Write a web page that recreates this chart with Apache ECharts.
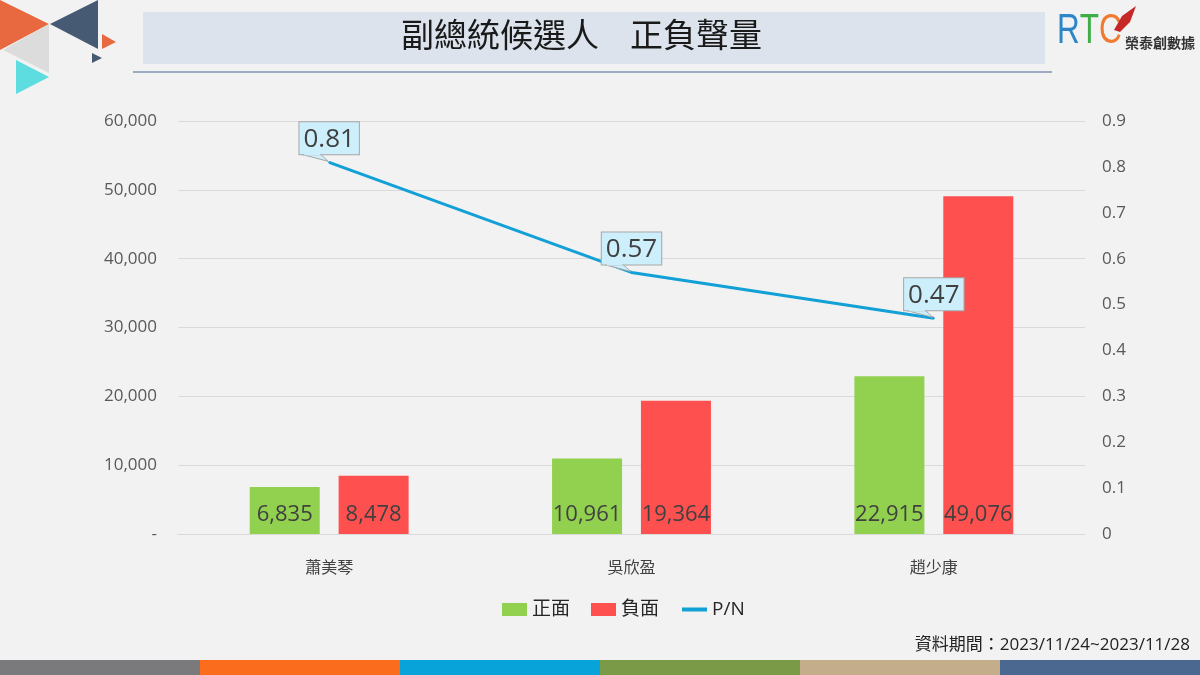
<!DOCTYPE html>
<html><head><meta charset="utf-8">
<script src="https://cdn.jsdelivr.net/npm/echarts@6/dist/echarts.min.js"></script>
<style>html,body{margin:0;padding:0;background:#f1f2f1;}#c{width:1200px;height:675px;}</style>
</head><body><div id="c"></div>
<script>
const categories = ['蕭美琴', '吳欣盈', '趙少康'];
const positive = [6835, 10961, 22915];
const negative = [8478, 19364, 49076];
const ratio = [0.81, 0.57, 0.47];
const seriesNames = ['正面', '負面', 'P/N'];
const titleParts = ['副總統候選人', '正負聲量'];
const dateText = '資料期間：2023/11/24~2023/11/28';

const FONT = '"Open Sans","Noto Sans CJK TC",sans-serif';
const chart = echarts.init(document.getElementById('c'));
const bottomColors = ['#7a7a7c', '#fb6d1d', '#08a3d9', '#7b9a48', '#c4ad8a', '#4b6890'];

const graphics = [
  {type:'polygon', shape:{points:[[0,0],[49,24],[0,50]]}, style:{fill:'#e8683f'}},
  {type:'polygon', shape:{points:[[50,24],[98,0],[98,49]]}, style:{fill:'#475a73'}},
  {type:'polygon', shape:{points:[[3,50],[49,24],[49,73]]}, style:{fill:'#dcdcdc'}},
  {type:'polygon', shape:{points:[[16,60],[49,77],[16,94]]}, style:{fill:'#5ddde0'}},
  {type:'polygon', shape:{points:[[102,34],[116,42],[102,49]]}, style:{fill:'#e8683f'}},
  {type:'polygon', shape:{points:[[92,53],[102,58],[92,63]]}, style:{fill:'#475a73'}},
  {type:'rect', shape:{x:143, y:12, width:902, height:52}, style:{fill:'#dce3ec'}},
  {type:'line', shape:{x1:133, y1:72, x2:1052, y2:72}, style:{stroke:'#4a6592', lineWidth:1.2}},
  {type:'text', x:401, y:18, style:{text:titleParts[0], font:'33px "Noto Sans CJK TC",sans-serif', fill:'#1a1a1a'}},
  {type:'text', x:630, y:18, style:{text:titleParts[1], font:'33px "Noto Sans CJK TC",sans-serif', fill:'#1a1a1a'}},
  {type:'text', x:1057, y:10, scaleX:0.75, style:{rich:{r:{fill:'#2e86c8', fontSize:42, fontFamily:'"Liberation Sans",sans-serif'}, t:{fill:'#3fae49', fontSize:42, fontFamily:'"Liberation Sans",sans-serif'}, c:{fill:'#f07a30', fontSize:42, fontFamily:'"Liberation Sans",sans-serif'}}, text:'{r|R}{t|T}{c|C}'}},
  {type:'polygon', shape:{points:[[1114,30],[1122,16],[1136,6],[1130,22],[1120,32]]}, style:{fill:'#c62828'}},
  {type:'text', x:1125, y:36, style:{text:'榮泰創數據', font:'bold 14px "Noto Sans CJK TC",sans-serif', fill:'#333'}},
  {type:'text', x:1190, y:637, style:{text:dateText, font:'17px ' + FONT, fill:'#222', textAlign:'right'}}
];
bottomColors.forEach((c, i) => graphics.push({type:'rect', shape:{x:i*200, y:660, width:200, height:15}, style:{fill:c}}));

chart.setOption({
  backgroundColor: '#f1f2f1',
  animation: false,
  textStyle: {fontFamily: FONT},
  grid: {left: 178, right: 115, top: 121, bottom: 141},
  legend: {
    bottom: 51, left: 497, itemWidth: 25, itemHeight: 13, itemGap: 21,
    textStyle: {fontSize: 19, color: '#262626', fontFamily: FONT},
    data: [{name: seriesNames[0], icon: 'rect'}, {name: seriesNames[1], icon: 'rect'},
           {name: seriesNames[2], itemStyle: {opacity: 0}, lineStyle: {width: 4}}]
  },
  xAxis: {
    type: 'category', data: categories,
    axisLine: {show: true, lineStyle: {color: '#d9d9d9'}}, axisTick: {show: false},
    axisLabel: {fontSize: 16, color: '#404040', margin: 26}
  },
  yAxis: [
    {type: 'value', min: 0, max: 60000, interval: 10000,
     axisLine: {show: false}, axisTick: {show: false},
     splitLine: {lineStyle: {color: '#d9d9d9'}},
     axisLabel: {fontSize: 17, color: '#595959', margin: 21, formatter: v => v === 0 ? '-' : v.toLocaleString('en-US')}},
    {type: 'value', min: 0, max: 0.9, interval: 0.1,
     axisLine: {show: false}, axisTick: {show: false}, splitLine: {show: false},
     axisLabel: {fontSize: 17, color: '#595959', margin: 17, formatter: v => v === 0 ? '0' : String(Math.round(v * 10) / 10)}}
  ],
  series: [
    {name: seriesNames[0], type: 'bar', data: positive, barWidth: 70, barGap: '27%',
     itemStyle: {color: '#92d050'},
     label: {show: true, position: 'insideBottom', distance: 8, fontSize: 22, color: '#404040', formatter: p => p.value.toLocaleString('en-US')}},
    {name: seriesNames[1], type: 'bar', data: negative, barWidth: 70,
     itemStyle: {color: '#ff5050'},
     label: {show: true, position: 'insideBottom', distance: 8, fontSize: 22, color: '#404040', formatter: p => p.value.toLocaleString('en-US')}},
    {name: seriesNames[2], type: 'line', yAxisIndex: 1, data: ratio,
     lineStyle: {color: '#12a0d7', width: 3}, itemStyle: {color: '#12a0d7'},
     symbol: 'circle', symbolSize: 2, z: 5,
     label: {show: true, position: 'top', distance: 7, fontSize: 26, color: '#404040',
             backgroundColor: '#cdeffc', borderColor: '#a6a6a6', borderWidth: 1, padding: [4, 4, 2, 4],
             formatter: p => p.value.toFixed(2)}}
  ],
  graphic: graphics
});

// callout tails, computed from the library's scales
const tails = ratio.map((v, i) => {
  const p = chart.convertToPixel({seriesIndex: 2}, [i, v]);
  const by = p[1] - 7.5;
  return {type: 'polygon', z: 100, shape: {points: [[p[0] - 26, by], [p[0] - 8, by], [p[0] - 1, p[1] - 1]]},
          style: {fill: '#cdeffc', stroke: '#a6a6a6', lineWidth: 1}};
});
const tailFix = ratio.map((v, i) => {
  const p = chart.convertToPixel({seriesIndex: 2}, [i, v]);
  const by = p[1] - 7.5;
  return {type: 'rect', z: 101, shape: {x: p[0] - 25, y: by - 1.5, width: 16, height: 2}, style: {fill: '#cdeffc'}};
});
chart.setOption({graphic: graphics.concat(tails, tailFix)});
</script></body></html>
